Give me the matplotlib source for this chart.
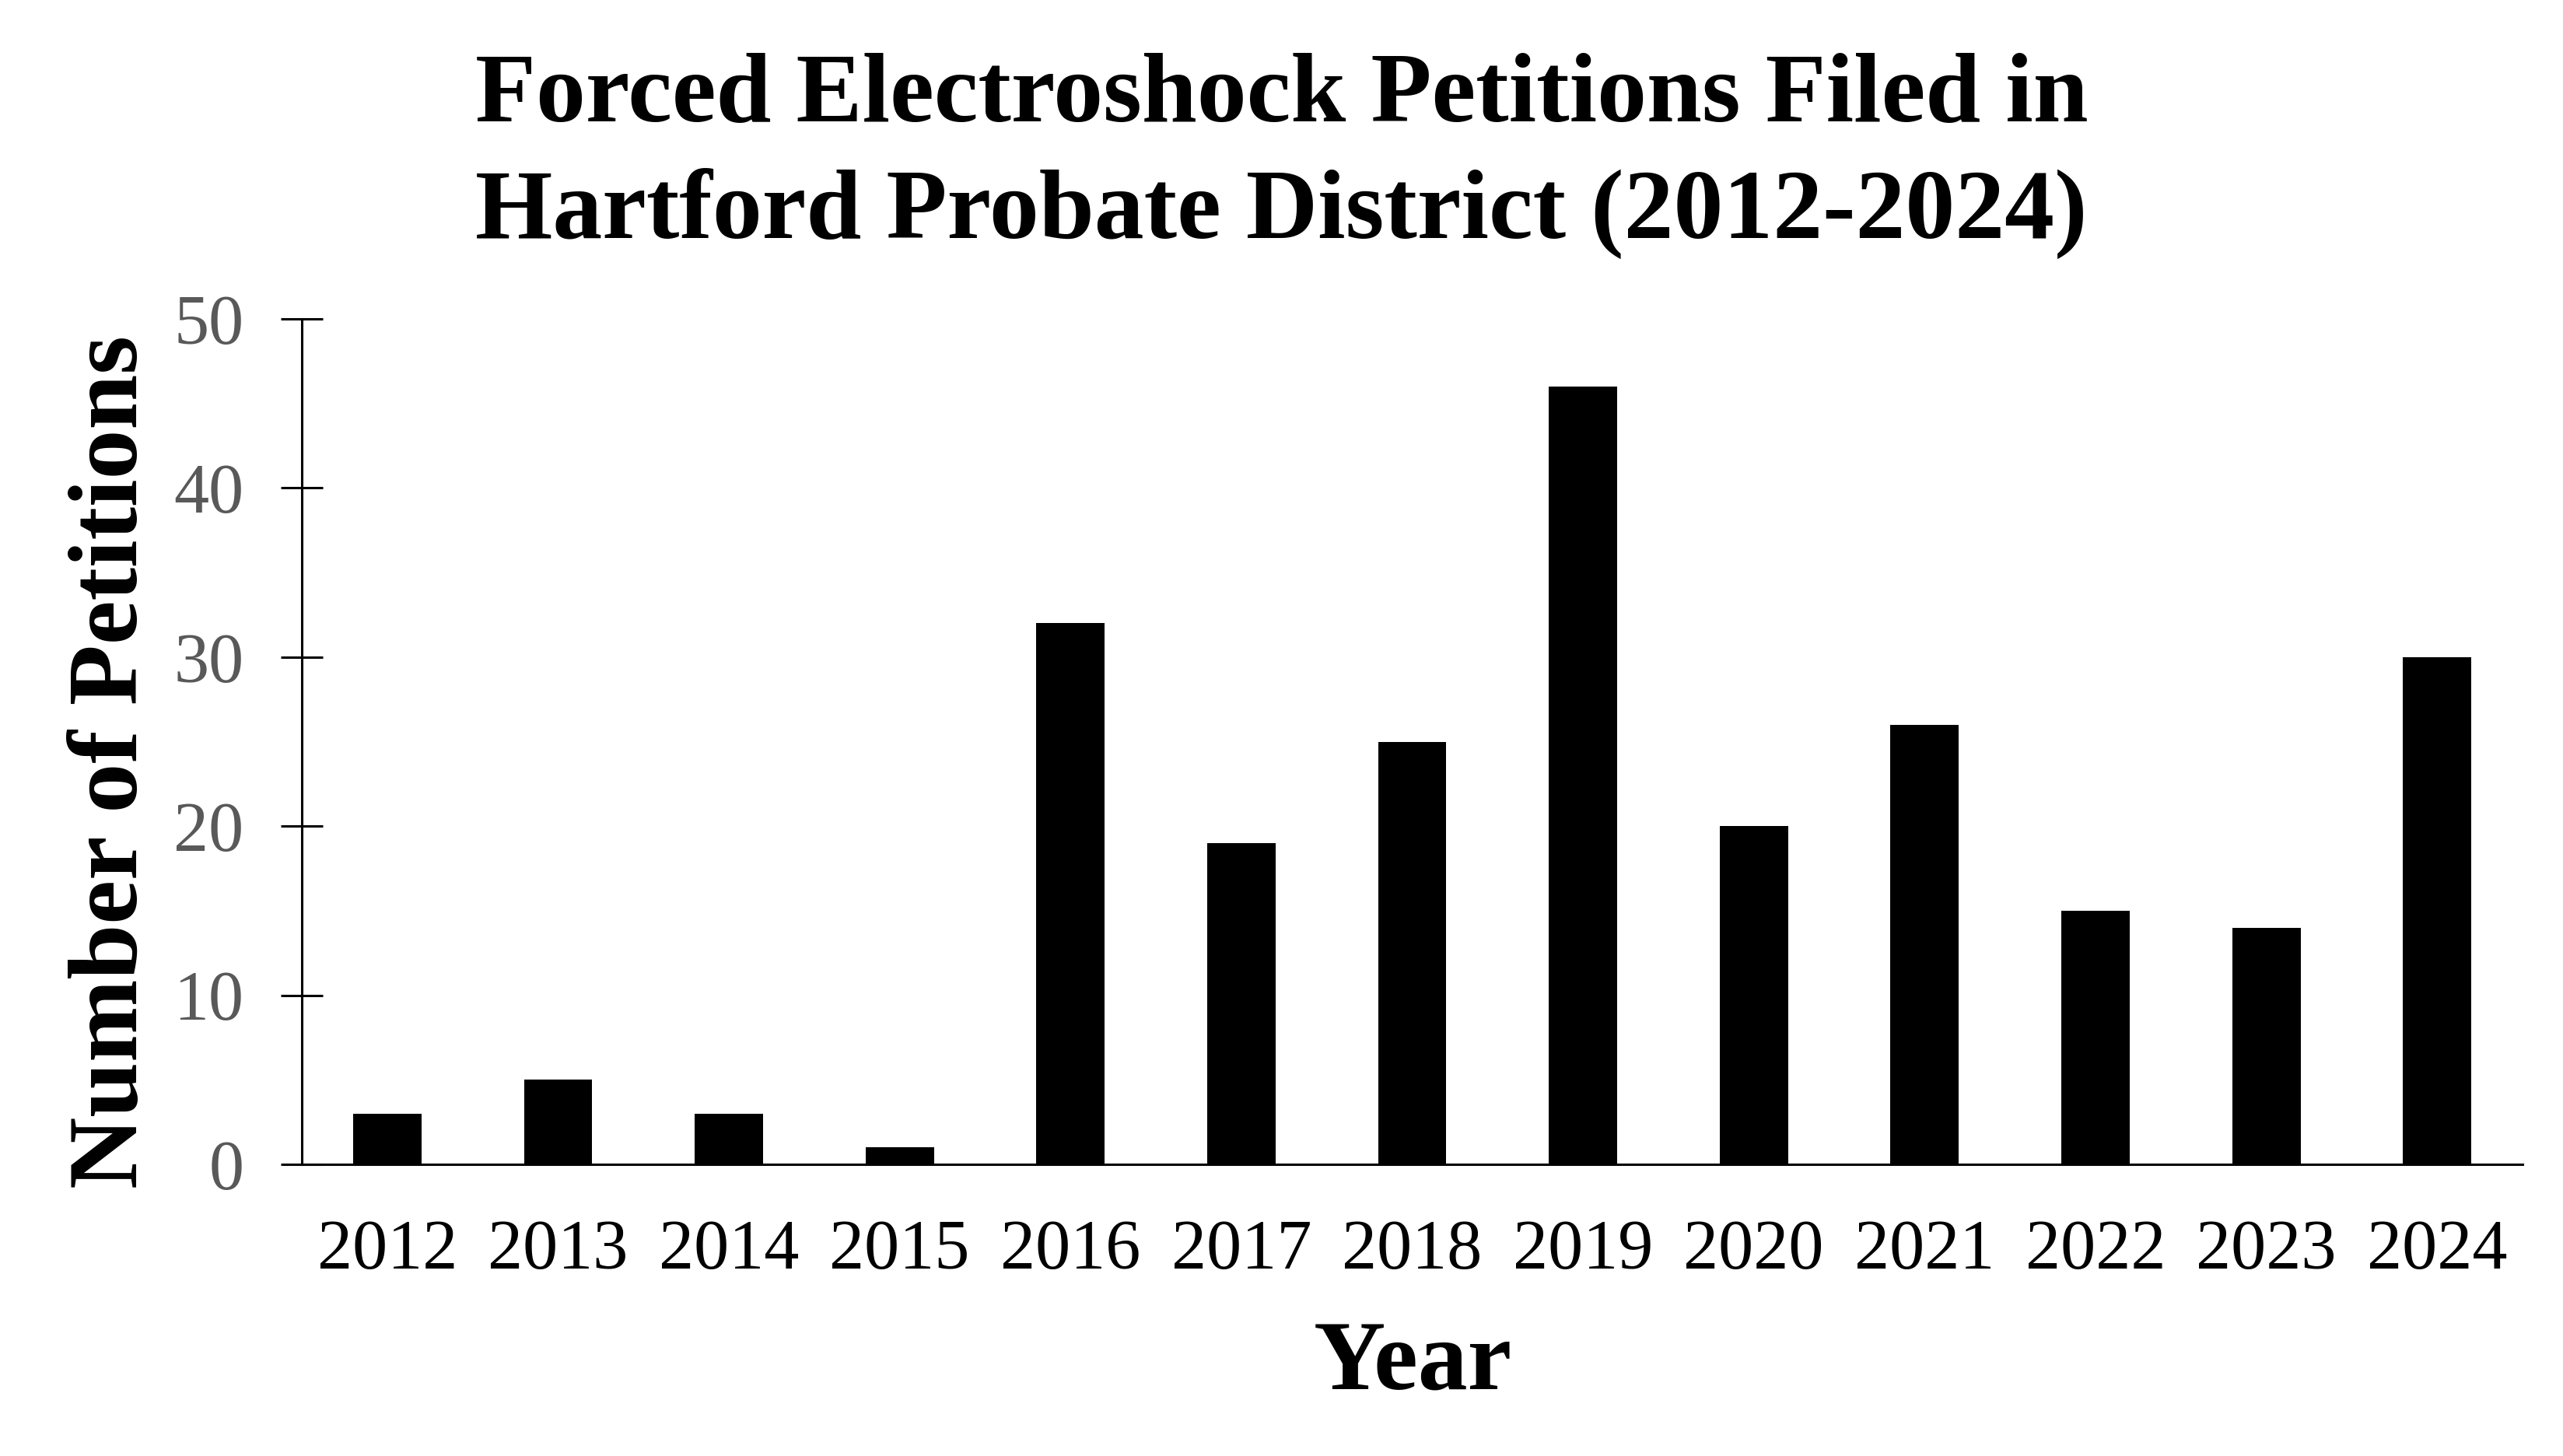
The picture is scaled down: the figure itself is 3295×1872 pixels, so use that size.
import matplotlib
matplotlib.use("Agg")
import matplotlib.pyplot as plt
import numpy as np

# Data
years = ["2012", "2013", "2014", "2015", "2016", "2017", "2018",
         "2019", "2020", "2021", "2022", "2023", "2024"]
petitions = [3, 5, 3, 1, 32, 19, 25, 46, 20, 26, 15, 14, 30]
y_ticks = [0, 10, 20, 30, 40, 50]

plt.rcParams["font.family"] = ["Liberation Serif", "DejaVu Serif"]

W, H = 3295, 1872
fig = plt.figure(figsize=(W / 100, H / 100), dpi=100)
ax = fig.add_axes([388 / W, 1 - 1497 / H, (3243 - 388) / W, (1497 - 410) / H])

x = np.arange(len(years))
ax.bar(x, petitions, width=0.4, color="black")

ax.set_xlim(-0.5, len(years) - 0.5)
ax.set_ylim(0, 50)
ax.set_xticks(x)
ax.set_xticklabels(years)
ax.set_yticks(y_ticks)

for side in ("top", "right"):
    ax.spines[side].set_visible(False)
for side in ("left", "bottom"):
    ax.spines[side].set_linewidth(2.2)

ax.tick_params(axis="y", direction="inout", length=39, width=2.2,
               labelsize=65, labelcolor="#595959", pad=34)
ax.tick_params(axis="x", length=0, labelsize=65, labelcolor="black", pad=51)

fig.text(0.5, 1 - 68 / H,
         "Forced Electroshock Petitions Filed in\nHartford Probate District (2012-2024)",
         ha="center", va="top", fontsize=92, fontweight="bold", linespacing=1.36)
fig.text(145 / W, 1 - 980 / H, "Number of Petitions", rotation=90,
         ha="center", va="center", fontsize=92, fontweight="bold")
fig.text(1816 / W, 1 - 1787 / H, "Year", ha="center", va="baseline",
         fontsize=92, fontweight="bold")

fig.savefig("out.png", dpi=100)
